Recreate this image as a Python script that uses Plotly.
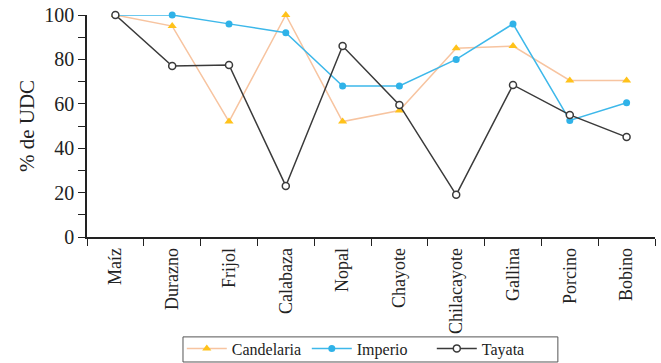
import plotly.graph_objects as go

categorias = ["Maíz", "Durazno", "Frijol", "Calabaza", "Nopal", "Chayote",
              "Chilacayote", "Gallina", "Porcino", "Bobino"]
candelaria = [100, 95, 52, 100, 52, 57, 85, 86, 70.5, 70.5]
imperio = [100, 100, 96, 92, 68, 68, 80, 96, 52.5, 60.5]
tayata = [100, 77, 77.5, 23, 86, 59.5, 19, 68.5, 55, 45]

FONT = "Liberation Serif"
fig = go.Figure()

fig.add_trace(go.Scatter(
    x=categorias, y=candelaria, name="Candelaria", mode="lines+markers",
    line=dict(color="#F7C4A0", width=1.5),
    marker=dict(symbol="triangle-up", size=8, color="#FFC21A"),
    cliponaxis=False,
))
fig.add_trace(go.Scatter(
    x=categorias, y=imperio, name="Imperio", mode="lines+markers",
    line=dict(color="#3DB8EA", width=1.5),
    marker=dict(symbol="circle", size=7, color="#2FB2E8"),
    cliponaxis=False,
))
fig.add_trace(go.Scatter(
    x=categorias, y=tayata, name="Tayata", mode="lines+markers",
    line=dict(color="#3A3A3A", width=1.5),
    marker=dict(symbol="circle", size=7, color="white",
                line=dict(color="#3A3A3A", width=1.5)),
    cliponaxis=False,
))

fig.update_layout(
    width=661, height=363,
    margin=dict(l=87, r=6, t=15, b=126),
    paper_bgcolor="white", plot_bgcolor="white",
    font=dict(family=FONT, size=18, color="#222222"),
    showlegend=True,
    legend=dict(
        orientation="h", x=0.497, xanchor="center",
        yref="container", y=0.04, yanchor="middle",
        bgcolor="rgba(0,0,0,0)", borderwidth=0,
        font=dict(family=FONT, size=16, color="#222222"),
        itemwidth=40, tracegroupgap=0,
        entrywidth=70, entrywidthmode="pixels",
    ),
    # thin frame around the legend row
    shapes=[dict(
        type="rect", xref="paper", yref="paper",
        x0=0.169, x1=0.829, y0=-0.563, y1=-0.450,
        line=dict(color="#555555", width=1), fillcolor="rgba(0,0,0,0)",
        layer="below",
    )],
)

fig.update_xaxes(
    type="category", range=[-0.5, 9.5], automargin=False,
    showgrid=False, zeroline=False,
    showline=True, linecolor="#222222", linewidth=1.5,
    ticks="outside", tickson="boundaries", ticklen=7,
    tickcolor="#222222", tickwidth=1.2,
    tickangle=-90, tickfont=dict(family=FONT, size=18),
    ticklabelstandoff=2,
)
fig.update_yaxes(
    range=[0, 100], dtick=20, automargin=False,
    showgrid=False, zeroline=False,
    showline=True, linecolor="#222222", linewidth=1.5,
    ticks="outside", ticklen=7, tickcolor="#222222", tickwidth=1.2,
    minor=dict(dtick=10, ticks="outside", ticklen=7,
               tickcolor="#222222", tickwidth=1.2),
    tickfont=dict(family=FONT, size=20),
    title=dict(text="% de UDC", font=dict(family=FONT, size=21), standoff=4),
)

fig.write_html("out.html")
